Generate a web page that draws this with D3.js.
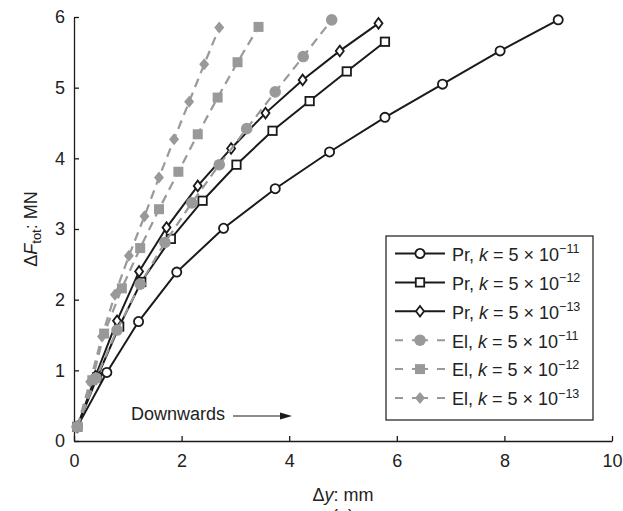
<!DOCTYPE html>
<html>
<head>
<meta charset="utf-8">
<script src="https://cdn.jsdelivr.net/npm/d3@7"></script>
<style>
body { margin: 0; background: #fff; }
text { font-family: "Liberation Sans", Arial, sans-serif; fill: #222; }
</style>
</head>
<body>
<div id="chart"></div>
<script>
// data: [dy mm, dF MN]
const prK11 = [[0.06,0.2],[0.61,0.97],[1.2,1.69],[1.91,2.39],[2.78,3.01],[3.74,3.57],[4.75,4.09],[5.78,4.58],[6.85,5.05],[7.92,5.52],[9.0,5.96]];
const prK12 = [[0.06,0.2],[0.43,0.9],[0.84,1.62],[1.25,2.25],[1.8,2.86],[2.39,3.4],[3.02,3.91],[3.69,4.39],[4.38,4.81],[5.07,5.23],[5.78,5.65]];
const prK13 = [[0.06,0.2],[0.4,0.92],[0.8,1.7],[1.21,2.4],[1.72,3.02],[2.3,3.61],[2.92,4.14],[3.56,4.64],[4.25,5.11],[4.94,5.52],[5.66,5.91]];
const elK11 = [[0.06,0.2],[0.41,0.89],[0.8,1.57],[1.23,2.22],[1.69,2.81],[2.19,3.37],[2.7,3.91],[3.21,4.42],[3.74,4.94],[4.26,5.44],[4.79,5.96]];
const elK12 = [[0.06,0.2],[0.34,0.86],[0.56,1.52],[0.89,2.16],[1.23,2.73],[1.58,3.28],[1.94,3.81],[2.3,4.34],[2.67,4.86],[3.04,5.36],[3.43,5.86]];
const elK13 = [[0.06,0.2],[0.3,0.84],[0.52,1.48],[0.76,2.07],[1.02,2.62],[1.31,3.18],[1.58,3.73],[1.86,4.27],[2.14,4.8],[2.42,5.33],[2.7,5.85]];

const seriesNames = ["Pr", "Pr", "Pr", "El", "El", "El"];
const seriesExp = ["\u221211", "\u221212", "\u221213", "\u221211", "\u221212", "\u221213"];
const xTicks = [0, 2, 4, 6, 8, 10];
const yTicks = [0, 1, 2, 3, 4, 5, 6];

var margin = {top: 17, right: 11, bottom: 70, left: 74},
width = 623 - margin.left - margin.right,
height = 511 - margin.top - margin.bottom;

const fs = 18;

var svg = d3.select("#chart")
.append("svg")
.attr("width", 623)
.attr("height", 511)
.append("g")
.attr("transform", "translate(" + margin.left + "," + margin.top + ")");

var x = d3.scaleLinear().domain([0, 10]).range([0, width]);
var y = d3.scaleLinear().domain([0, 6]).range([height, 0]);

const black = "#1a1a1a", grey = "#999";

// axes, ticks pointing inward
var xAxis = svg.append("g")
.attr("transform", "translate(0," + height + ")")
.call(d3.axisBottom(x).tickValues(xTicks).tickFormat(d3.format("d")).tickSizeInner(-5).tickSizeOuter(0).tickPadding(13));
var yAxis = svg.append("g")
.call(d3.axisLeft(y).tickValues(yTicks).tickFormat(d3.format("d")).tickSizeInner(-5).tickSizeOuter(0).tickPadding(9));
[xAxis, yAxis].forEach(function(a) {
  a.selectAll("path, line").attr("stroke", black).attr("stroke-width", 1.3);
  a.selectAll("text").attr("font-size", fs).attr("font-family", "Liberation Sans, Arial, sans-serif").attr("fill", "#222");
});

// marker shapes
function marker(g, shape, filled) {
  var col = filled ? grey : black;
  var fill = filled ? grey : "#fff";
  var sw = filled ? 0 : 1.8;
  if (shape == "circle") {
    g.append("circle").attr("r", filled ? 5.8 : 4.6);
  } else if (shape == "square") {
    var s = filled ? 5 : 4.2;
    g.append("rect").attr("x", -s).attr("y", -s).attr("width", 2 * s).attr("height", 2 * s);
  } else {
    var w = filled ? 5 : 4, h = filled ? 6 : 5.3;
    g.append("path").attr("d", "M0," + (-h) + "L" + w + ",0L0," + h + "L" + (-w) + ",0Z");
  }
  g.selectAll("*").attr("fill", fill).attr("stroke", col).attr("stroke-width", sw);
}

const allSeries = [prK11, prK12, prK13, elK11, elK12, elK13];
const shapes = ["circle", "square", "diamond", "circle", "square", "diamond"];

var line = d3.line().x(d => x(d[0])).y(d => y(d[1]));

allSeries.forEach(function(data, i) {
  var filled = i >= 3;
  svg.append("path")
  .datum(data)
  .attr("d", line)
  .attr("fill", "none")
  .attr("stroke", filled ? grey : black)
  .attr("stroke-width", filled ? 2.2 : 2)
  .attr("stroke-dasharray", filled ? "9,6" : null);
  svg.append("g").selectAll("g")
  .data(data)
  .enter().append("g")
  .attr("transform", d => "translate(" + x(d[0]) + "," + y(d[1]) + ")")
  .each(function() { marker(d3.select(this), shapes[i], filled); });
});

// legend
var lg = svg.append("g").attr("transform", "translate(" + (386 - margin.left) + "," + (236 - margin.top) + ")");
lg.append("rect").attr("width", 207).attr("height", 184).attr("fill", "#fff").attr("stroke", black).attr("stroke-width", 1.2);
allSeries.forEach(function(data, i) {
  var filled = i >= 3;
  var row = lg.append("g").attr("transform", "translate(0," + (17.5 + i * 28.9) + ")");
  row.append("line").attr("x1", 9).attr("x2", 59)
  .attr("stroke", filled ? grey : black).attr("stroke-width", 2)
  .attr("stroke-dasharray", filled ? "8,9,16,9,8" : null);
  marker(row.append("g").attr("transform", "translate(34,0)"), shapes[i], filled);
  var t = row.append("text").attr("x", 66).attr("y", 7.3).attr("font-size", fs);
  t.append("tspan").text(seriesNames[i] + ", ");
  t.append("tspan").attr("font-style", "italic").text("k");
  t.append("tspan").text(" = 5 \u00d7 10");
  t.append("tspan").attr("font-size", 12.5).attr("dy", -7.5).text(seriesExp[i]);
});

// annotation
svg.append("text").attr("x", 131 - margin.left).attr("y", 420 - margin.top)
.attr("font-size", fs).text("Downwards");
svg.append("line").attr("x1", 233 - margin.left).attr("x2", 282 - margin.left)
.attr("y1", 416 - margin.top).attr("y2", 416 - margin.top)
.attr("stroke", black).attr("stroke-width", 1.2);
svg.append("path")
.attr("d", "M" + (292 - margin.left) + "," + (416 - margin.top) + "l-12,-3.5l0,7z")
.attr("fill", black);

// axis labels
var xl = svg.append("text").attr("x", width / 2).attr("y", 501 - margin.top)
.attr("text-anchor", "middle").attr("font-size", fs);
xl.append("tspan").text("\u0394");
xl.append("tspan").attr("font-style", "italic").text("y");
xl.append("tspan").text(": mm");

var yl = svg.append("text")
.attr("transform", "translate(" + (37 - margin.left) + "," + (height / 2) + ") rotate(-90)")
.attr("text-anchor", "middle").attr("font-size", fs);
yl.append("tspan").text("\u0394");
yl.append("tspan").attr("font-style", "italic").text("F");
yl.append("tspan").attr("font-size", 13).attr("dy", 4).text("tot");
yl.append("tspan").attr("dy", -4).text(": MN");

// panel label, cut by the bottom edge as in the source figure
svg.append("text").attr("x", width / 2).attr("y", 522 - margin.top)
.attr("text-anchor", "middle").attr("font-size", fs).text("(a)");
</script>
</body>
</html>
